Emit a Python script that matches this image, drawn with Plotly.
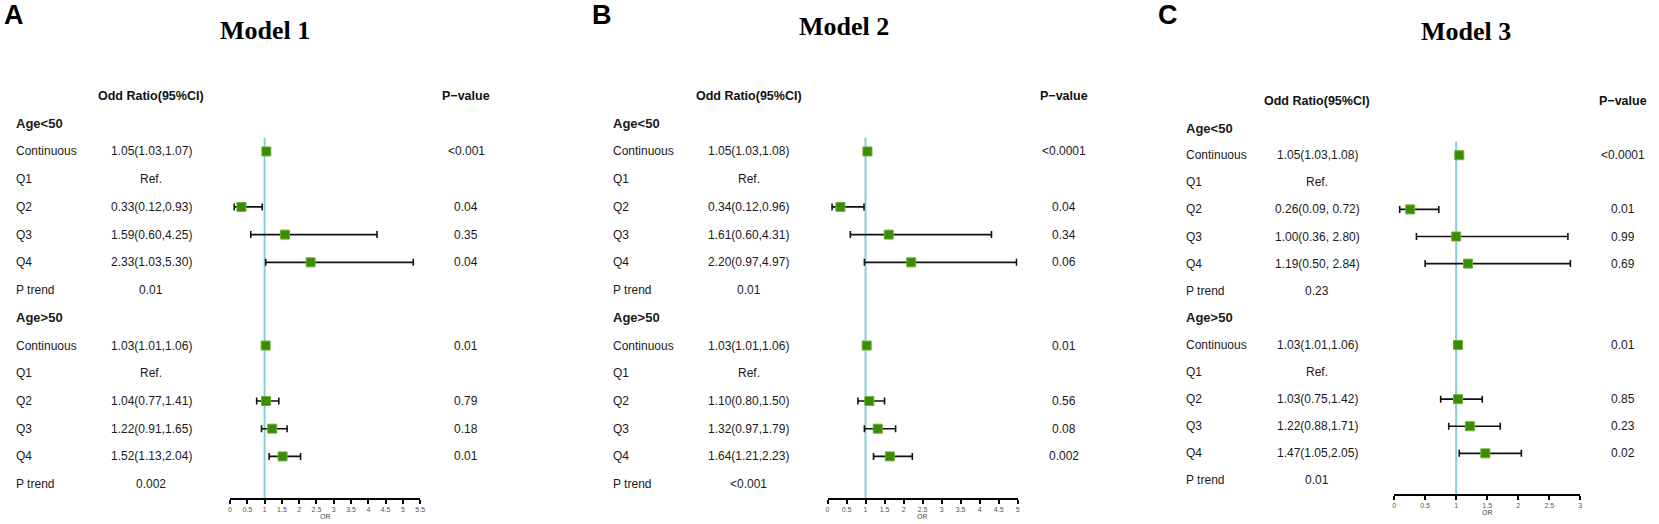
import plotly.graph_objects as go

W, H = 1659, 524

# ---------------- data ----------------
row_labels = ["Age<50", "Continuous", "Q1", "Q2", "Q3", "Q4", "P trend",
              "Age>50", "Continuous", "Q1", "Q2", "Q3", "Q4", "P trend"]
bold_rows = [0, 7]

model_titles = ["Model 1", "Model 2", "Model 3"]
panel_letters = ["A", "B", "C"]

m1_or_text = ["", "1.05(1.03,1.07)", "Ref.", "0.33(0.12,0.93)", "1.59(0.60,4.25)", "2.33(1.03,5.30)", "0.01",
              "", "1.03(1.01,1.06)", "Ref.", "1.04(0.77,1.41)", "1.22(0.91,1.65)", "1.52(1.13,2.04)", "0.002"]
m1_p_text = ["", "<0.001", "", "0.04", "0.35", "0.04", "",
             "", "0.01", "", "0.79", "0.18", "0.01", ""]
m1_est = [None, 1.05, None, 0.33, 1.59, 2.33, None, None, 1.03, None, 1.04, 1.22, 1.52, None]
m1_lo = [None, 1.03, None, 0.12, 0.60, 1.03, None, None, 1.01, None, 0.77, 0.91, 1.13, None]
m1_hi = [None, 1.07, None, 0.93, 4.25, 5.30, None, None, 1.06, None, 1.41, 1.65, 2.04, None]

m2_or_text = ["", "1.05(1.03,1.08)", "Ref.", "0.34(0.12,0.96)", "1.61(0.60,4.31)", "2.20(0.97,4.97)", "0.01",
              "", "1.03(1.01,1.06)", "Ref.", "1.10(0.80,1.50)", "1.32(0.97,1.79)", "1.64(1.21,2.23)", "<0.001"]
m2_p_text = ["", "<0.0001", "", "0.04", "0.34", "0.06", "",
             "", "0.01", "", "0.56", "0.08", "0.002", ""]
m2_est = [None, 1.05, None, 0.34, 1.61, 2.20, None, None, 1.03, None, 1.10, 1.32, 1.64, None]
m2_lo = [None, 1.03, None, 0.12, 0.60, 0.97, None, None, 1.01, None, 0.80, 0.97, 1.21, None]
m2_hi = [None, 1.08, None, 0.96, 4.31, 4.97, None, None, 1.06, None, 1.50, 1.79, 2.23, None]

m3_or_text = ["", "1.05(1.03,1.08)", "Ref.", "0.26(0.09, 0.72)", "1.00(0.36, 2.80)", "1.19(0.50, 2.84)", "0.23",
              "", "1.03(1.01,1.06)", "Ref.", "1.03(0.75,1.42)", "1.22(0.88,1.71)", "1.47(1.05,2.05)", "0.01"]
m3_p_text = ["", "<0.0001", "", "0.01", "0.99", "0.69", "",
             "", "0.01", "", "0.85", "0.23", "0.02", ""]
m3_est = [None, 1.05, None, 0.26, 1.00, 1.19, None, None, 1.03, None, 1.03, 1.22, 1.47, None]
m3_lo = [None, 1.03, None, 0.09, 0.36, 0.50, None, None, 1.01, None, 0.75, 0.88, 1.05, None]
m3_hi = [None, 1.08, None, 0.72, 2.80, 2.84, None, None, 1.06, None, 1.42, 1.71, 2.05, None]

m1_ticks = [0, 0.5, 1, 1.5, 2, 2.5, 3, 3.5, 4, 4.5, 5, 5.5]
m2_ticks = [0, 0.5, 1, 1.5, 2, 2.5, 3, 3.5, 4, 4.5, 5]
m3_ticks = [0, 0.5, 1, 1.5, 2, 2.5, 3]

models = [
    (m1_or_text, m1_p_text, m1_est, m1_lo, m1_hi, m1_ticks),
    (m2_or_text, m2_p_text, m2_est, m2_lo, m2_hi, m2_ticks),
    (m3_or_text, m3_p_text, m3_est, m3_lo, m3_hi, m3_ticks),
]

# ---------------- layout geometry (pixels) ----------------
geom = [
    dict(label_x=12, or_x=150, p_x=466, ax0=229, ax1=420, ytop=96, ybot=498,
         title=(264, 30), letter=(0, 15)),
    dict(label_x=612, or_x=750, p_x=1067, ax0=829, ax1=1020, ytop=96, ybot=498,
         title=(846, 26), letter=(590, 15)),
    dict(label_x=1187, or_x=1321, p_x=1628, ax0=1398, ax1=1585, ytop=101, ybot=494,
         title=(1470, 32), letter=(1159, 15)),
]


def px(x):
    return x / W


def py(y):
    return 1 - y / H


TXT = "Liberation Sans, Arial, sans-serif"
GREEN = "#3c8c00"
CYAN = "#86cfd6"

fig = go.Figure()
annotations = []
shapes = []

for i, ((or_text, p_text, est, lo, hi, ticks), g) in enumerate(zip(models, geom)):
    n = i + 1
    xa = "x" if n == 1 else f"x{n}"
    ya = "y" if n == 1 else f"y{n}"
    rows = [r for r in range(len(row_labels)) if est[r] is not None]
    xs = [est[r] for r in rows]
    fig.add_trace(go.Scatter(
        x=xs, y=rows, mode="markers", xaxis=xa, yaxis=ya, showlegend=False,
        marker=dict(symbol="square", size=9, color=GREEN, line=dict(color="#6cae3a", width=1)),
        error_x=dict(type="data", symmetric=False,
                     array=[hi[r] - est[r] for r in rows],
                     arrayminus=[est[r] - lo[r] for r in rows],
                     color="#111111", thickness=1.6, width=3.5),
        cliponaxis=False, hoverinfo="skip",
    ))
    xmax = ticks[-1]
    fig.update_layout(**{
        ("xaxis" if n == 1 else f"xaxis{n}"): dict(
            domain=[px(g["ax0"]), px(g["ax1"])], range=[0, xmax], anchor=ya,
            showline=True, linecolor="black", linewidth=2, mirror=False,
            ticks="outside", ticklen=4, tickwidth=1.5, tickcolor="black",
            tickvals=ticks, ticktext=[f"{t:g}" for t in ticks],
            tickfont=dict(family=TXT, size=7, color="#555555"),
            showgrid=False, zeroline=False, fixedrange=True,
        ),
        ("yaxis" if n == 1 else f"yaxis{n}"): dict(
            domain=[py(g["ybot"]), py(g["ytop"])], range=[13.5, -1], anchor=xa,
            visible=False, showgrid=False, zeroline=False, fixedrange=True,
        ),
    })
    # axis title "OR" placed just below tick labels
    annotations.append(dict(text="OR", xref="paper", yref="paper",
                            x=px((g["ax0"] + g["ax1"]) / 2), y=py(g["ybot"] + 18),
                            xanchor="center", yanchor="middle", showarrow=False,
                            font=dict(family=TXT, size=7, color="#444444")))
    # reference line at OR = 1
    shapes.append(dict(type="line", xref=xa, yref=ya, x0=1, x1=1, y0=0.5, y1=13.5,
                       line=dict(color=CYAN, width=2), layer="below"))
    # headers
    annotations.append(dict(text="<b>Odd Ratio(95%CI)</b>", xref="paper", yref=ya, x=px(g["or_x"]), y=-1,
                            xanchor="center", yanchor="middle", showarrow=False,
                            font=dict(family=TXT, size=12.5, color="#111111")))
    annotations.append(dict(text="<b>P\u2212value</b>", xref="paper", yref=ya, x=px(g["p_x"]), y=-1,
                            xanchor="center", yanchor="middle", showarrow=False,
                            font=dict(family=TXT, size=12.5, color="#111111")))
    for r, lab in enumerate(row_labels):
        txt = f"<b>{lab}</b>" if r in bold_rows else lab
        annotations.append(dict(text=txt.replace("<5", "&lt;5"), xref="paper", yref=ya, x=px(g["label_x"]), y=r,
                                xanchor="left", yanchor="middle", showarrow=False,
                                font=dict(family=TXT, size=13 if r in bold_rows else 12, color="#1a1a1a")))
        if or_text[r]:
            annotations.append(dict(text=or_text[r].replace("<", "&lt;"), xref="paper", yref=ya, x=px(g["or_x"]), y=r,
                                    xanchor="center", yanchor="middle", showarrow=False,
                                    font=dict(family=TXT, size=12, color="#1a1a1a")))
        if p_text[r]:
            annotations.append(dict(text=p_text[r].replace("<", "&lt;"), xref="paper", yref=ya, x=px(g["p_x"]), y=r,
                                    xanchor="center", yanchor="middle", showarrow=False,
                                    font=dict(family=TXT, size=12, color="#1a1a1a")))
    # title and panel letter
    annotations.append(dict(text=f"<b>{model_titles[i]}</b>", xref="paper", yref="paper",
                            x=px(g["title"][0]), y=py(g["title"][1]), xanchor="center", yanchor="middle",
                            showarrow=False,
                            font=dict(family="Liberation Serif, Times New Roman, serif", size=26, color="black")))
    annotations.append(dict(text=f"<b>{panel_letters[i]}</b>", xref="paper", yref="paper",
                            x=px(g["letter"][0]), y=py(g["letter"][1]), xanchor="left", yanchor="middle",
                            showarrow=False, font=dict(family=TXT, size=27, color="black")))

fig.update_layout(
    width=W, height=H, margin=dict(l=0, r=0, t=0, b=0),
    paper_bgcolor="white", plot_bgcolor="white",
    annotations=annotations, shapes=shapes, showlegend=False,
)

# remove the default page margin so the figure sits at the window's top-left corner
fig.write_html("out.html",
               config={"displayModeBar": False},
               post_script="document.body.style.margin='0';document.body.style.overflow='hidden';")
